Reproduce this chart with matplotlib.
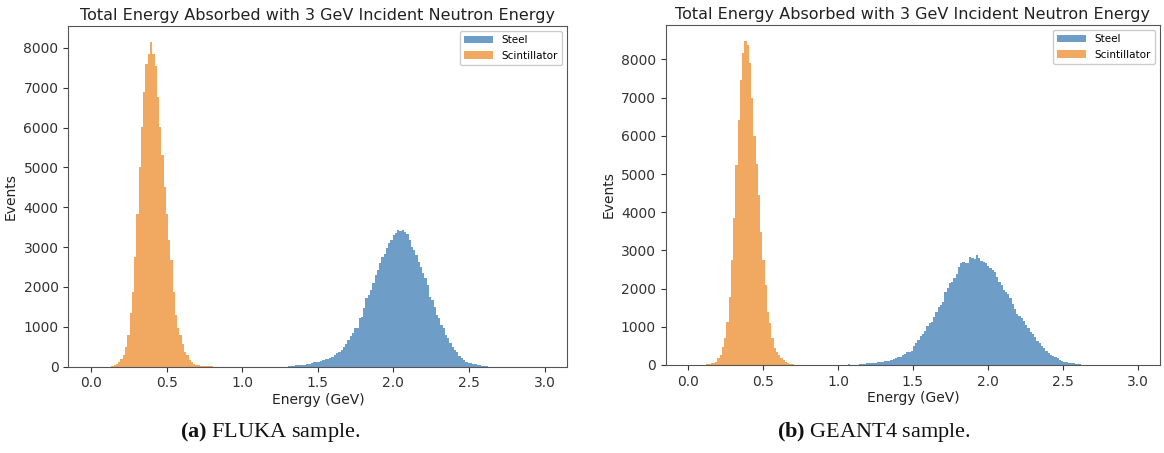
import numpy as np
import matplotlib.pyplot as plt

plt.rcParams['mathtext.fontset'] = 'custom'
plt.rcParams['mathtext.rm'] = 'Liberation Serif'
plt.rcParams['mathtext.bf'] = 'Liberation Serif:bold'

# histogram binning (GeV)
bin_width = 0.015
edges = np.arange(0, 3.0 + bin_width / 2, bin_width)
centers = edges[:-1] + bin_width / 2

title = "Total Energy Absorbed with 3 GeV Incident Neutron Energy"
captions = [r"$\mathbf{(a)}$ FLUKA sample.", r"$\mathbf{(b)}$ GEANT4 sample."]

# FLUKA: counts per bin, first bin edge given
fluka_scint_start = 0.135
fluka_scint = [20, 40, 80, 120, 200, 290, 500, 790, 1340, 1880, 2760, 3840, 5010, 6010,
               6890, 7600, 7850, 8140, 7850, 7550, 6760, 6010, 5300, 4510, 3840, 3170,
               2670, 1880, 1290, 960, 790, 580, 380, 290, 170, 120, 80, 50, 40, 30, 25,
               20, 15, 10, 8, 5]
fluka_steel_start = 1.305
fluka_steel = [20, 25, 30, 35, 40, 45, 50, 55, 68, 80, 100, 110, 126, 130, 150, 160, 185,
               200, 220, 252, 290, 335, 380, 419, 502, 580, 680, 760, 836, 961, 978, 1212,
               1254, 1462, 1713, 1796, 1922, 2089, 2297, 2423, 2590, 2757, 2840, 2990,
               3107, 3191, 3299, 3358, 3424, 3400, 3433, 3383, 3324, 3191, 3007, 2924,
               2798, 2631, 2506, 2339, 2214, 2047, 1755, 1671, 1504, 1296, 1212, 1045,
               961, 794, 711, 586, 502, 419, 377, 268, 210, 168, 126, 100, 84, 68, 60,
               50, 40, 30, 20, 10]

# GEANT4
geant_scint_start = 0.105
geant_scint = [10, 20, 30, 43, 61, 87, 174, 261, 479, 697, 1134, 1788, 2748, 3839, 5236,
               6414, 7461, 8177, 8480, 8377, 7897, 6981, 5995, 5262, 4450, 3490, 2748,
               2094, 1396, 1090, 697, 436, 349, 260, 180, 120, 80, 50, 30, 20, 10]
geant_steel_start = 1.14
geant_steel = [30, 35, 35, 40, 40, 45, 55, 60, 65, 80, 87, 95, 105, 113, 130, 157, 170,
               200, 220, 262, 290, 340, 345, 366, 497, 567, 654, 759, 812, 900, 1021,
               1100, 1134, 1248, 1396, 1509, 1570, 1658, 1920, 2007, 2138, 2181, 2268,
               2382, 2557, 2679, 2688, 2679, 2679, 2818, 2792, 2766, 2880, 2792, 2731,
               2705, 2661, 2591, 2530, 2500, 2443, 2312, 2181, 2094, 1963, 1900, 1858,
               1745, 1597, 1457, 1335, 1282, 1221, 1160, 1047, 960, 873, 800, 741, 637,
               567, 497, 436, 375, 305, 262, 240, 210, 170, 131, 113, 87, 70, 60, 44,
               40, 35, 30, 20]
geant_steel_extra = (1.065, 35)


def fill(start, counts):
    w = np.zeros(len(centers))
    i0 = int(round(start / bin_width))
    w[i0:i0 + len(counts)] = counts
    return w


steel_color = '#6e9ec8'
scint_color = '#f1a861'

fig = plt.figure(figsize=(11.64, 4.53), dpi=100)
ax_a = fig.add_axes([0.0587, 0.1905, 0.4287, 0.752])
ax_b = fig.add_axes([0.5719, 0.1943, 0.4247, 0.7506])

w_steel_b = fill(geant_steel_start, geant_steel)
w_steel_b[int(round(geant_steel_extra[0] / bin_width))] = geant_steel_extra[1]

panels = [
    (ax_a, fill(fluka_steel_start, fluka_steel), fill(fluka_scint_start, fluka_scint)),
    (ax_b, w_steel_b, fill(geant_scint_start, geant_scint)),
]

for ax, w_steel, w_scint in panels:
    ax.hist(centers, bins=edges, weights=w_steel, color=steel_color, label='Steel')
    ax.hist(centers, bins=edges, weights=w_scint, color=scint_color, label='Scintillator')
    ax.set_title(title, fontsize=11.5, color='#222222', pad=4)
    ax.set_xlabel('Energy (GeV)', fontsize=10, color='#222222', labelpad=2)
    ax.set_ylabel('Events', fontsize=10, color='#222222')
    ax.set_xticks([0, 0.5, 1.0, 1.5, 2.0, 2.5, 3.0])
    ax.tick_params(labelsize=10, colors='#333333')
    for s in ax.spines.values():
        s.set_color('#555555')
    ax.legend(loc='upper right', fontsize=7.5, handlelength=2.8, framealpha=1)

for xc, cap in zip([0.232, 0.751], captions):
    fig.text(xc, 0.046, cap, fontsize=16, ha='center', va='center',
             family='Liberation Serif', color='#111111')

fig.savefig('out.png', dpi=100)
